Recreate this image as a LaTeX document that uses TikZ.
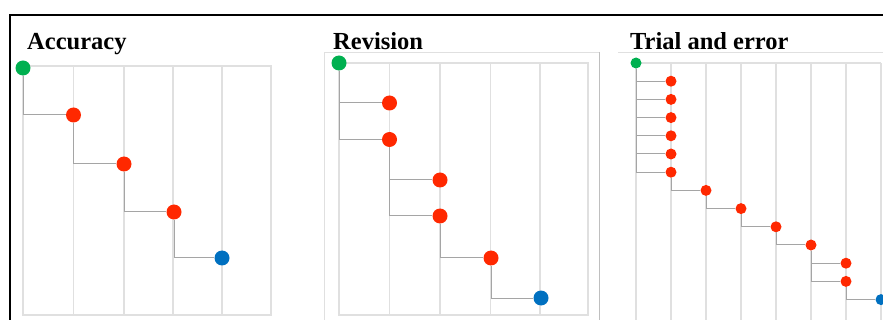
\documentclass[tikz,border=0pt]{standalone}
\usepackage{fontspec}
\setmainfont{Liberation Serif}
\usepackage{xcolor}

\definecolor{startgreen}{RGB}{0,176,80}
\definecolor{tryred}{RGB}{255,40,0}
\definecolor{goalblue}{RGB}{0,112,192}
\definecolor{gridgray}{RGB}{224,224,224}
\definecolor{linkgray}{RGB}{165,165,165}

\tikzset{
  title/.style={anchor=base west, inner sep=0pt, font=\fontsize{24.5}{29}\selectfont\bfseries},
  gridline/.style={draw=gridgray, line width=1.1pt},
  link/.style={draw=linkgray, line width=1pt},
  dot/.style={circle, inner sep=0pt, minimum size=15pt},
  start/.style={dot, fill=startgreen},
  try/.style={dot, fill=tryred},
  goal/.style={dot, fill=goalblue},
  small/.style={minimum size=11pt},
}

\begin{document}
\begin{tikzpicture}[x=1pt, y=-1pt]
  \useasboundingbox (0,0) rectangle (883,320);
  \clip (0,0) rectangle (883,320);
  \draw[line width=2.2pt] (10,330) -- (10,15) -- (893,15);

  % accuracy: one step at a time
  \node[title] (acctitle) at (27,50) {Accuracy};
  \draw[gridline] (23,66) rectangle (271,315);
  \foreach \x in {73.5,124,173,222}
    \draw[gridline] (\x,66) -- (\x,315);
  \node[start] (a0) at (23,68) {};
  \node[try] (a1) at (73.5,115) {};
  \node[try] (a2) at (124,164) {};
  \node[try] (a3) at (174,212) {};
  \node[goal] (a4) at (222,258) {};
  \foreach \i/\j in {a0/a1,a1/a2,a2/a3,a3/a4}
    \draw[link] (\i) |- (\j);

  % revision: two tries per column
  \node[title] (revtitle) at (333,50) {Revision};
  \draw[gridline, line width=0.8pt] (324,330) -- (324,52) -- (599,52);
  \draw[draw=black!25, line width=1pt] (599,52) -- (599,330);
  \draw[gridline] (339,63) rectangle (588,315);
  \foreach \x in {389.5,440,490.5,540}
    \draw[gridline] (\x,63) -- (\x,315);
  \node[start] (r0) at (339,63) {};
  \node[try] (r1) at (389.5,103) {};
  \node[try] (r2) at (389.5,139.5) {};
  \node[try] (r3) at (440,180) {};
  \node[try] (r4) at (440,216) {};
  \node[try] (r5) at (491,258) {};
  \node[goal] (r6) at (541,298) {};
  \foreach \i/\j in {r0/r1,r0/r2,r2/r3,r2/r4,r4/r5,r5/r6}
    \draw[link] (\i) |- (\j);

  % trial and error
  \node[title] (trialtitle) at (630,50) {Trial and error};
  \draw[gridline, line width=0.8pt] (618,52) -- (883,52);
  \draw[gridline] (636,63) -- (881,63);
  \foreach \k in {0,...,7}
    \draw[gridline] ({636+35*\k},63) -- ({636+35*\k},330);
  \node[start, small] (t0) at (636,63) {};
  \foreach \n in {1,...,6}
    \node[try, small] (t\n) at (671,{63+18.2*\n}) {};
  \node[try, small] (t7) at (706,{63+18.2*7}) {};
  \node[try, small] (t8) at (741,{63+18.2*8}) {};
  \node[try, small] (t9) at (776,{63+18.2*9}) {};
  \node[try, small] (t10) at (811,{63+18.2*10}) {};
  \node[try, small] (t11) at (846,{63+18.2*11}) {};
  \node[try, small] (t12) at (846,{63+18.2*12}) {};
  \node[goal, small] (t13) at (881,{63+18.2*13}) {};
  \foreach \n in {1,...,6}
    \draw[link] (t0) |- (t\n);
  \foreach \i/\j in {t6/t7,t7/t8,t8/t9,t9/t10,t10/t11,t10/t12,t12/t13}
    \draw[link] (\i) |- (\j);
\end{tikzpicture}
\end{document}
